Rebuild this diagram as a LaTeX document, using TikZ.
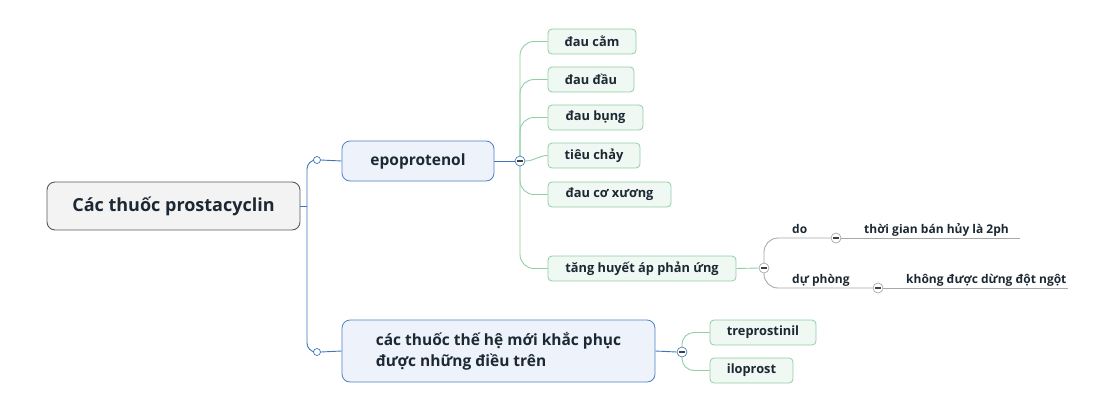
\documentclass[tikz,border=0pt]{standalone}
\usepackage{fontspec}
\setmainfont{Open Sans}
\usetikzlibrary{backgrounds}
\definecolor{txt}{HTML}{1C2833}
\definecolor{rootb}{HTML}{5A5A5A}
\definecolor{rootf}{HTML}{F3F3F3}
\definecolor{blueb}{HTML}{4D7FC4}
\definecolor{bluef}{HTML}{EEF3FB}
\definecolor{greenb}{HTML}{8FD0A4}
\definecolor{greenf}{HTML}{EFF8F2}
\definecolor{bline}{HTML}{3F74BB}
\definecolor{gline}{HTML}{8FCFA3}
\definecolor{grline}{HTML}{A8A8A8}
\begin{document}
\begin{tikzpicture}[x=1pt,y=-1pt,
  box/.style={draw, inner sep=0pt, text=txt},
  rootbox/.style={box, draw=rootb, fill=rootf, line width=0.9pt, rounded corners=8pt,
     minimum width=253pt, minimum height=48pt, font=\bfseries\fontsize{18}{21}\selectfont},
  lonebox/.style={box, draw=blueb, fill=bluef, line width=0.8pt, rounded corners=8pt,
     font=\bfseries\fontsize{15.5}{21}\selectfont},
  leafbox/.style={box, draw=greenb, fill=greenf, line width=0.8pt, rounded corners=4pt,
     minimum height=25pt, font=\bfseries\fontsize{12.8}{15}\selectfont},
  lbl/.style={inner sep=0pt, text=txt, font=\bfseries\fontsize{12}{15}\selectfont},
  tip/.style={circle, draw=#1, fill=white, line width=0.7pt, minimum size=10pt, inner sep=0pt,
     path picture={\draw[line width=1.1pt, draw=black!75]
       ([xshift=-2.6pt]path picture bounding box.center) -- ([xshift=2.6pt]path picture bounding box.center);}},
  knob/.style={circle, draw=bline, fill=white, line width=0.7pt, minimum size=7pt, inner sep=0pt},
  bl/.style={draw=bline, line width=0.9pt},
  gl/.style={draw=gline, line width=0.9pt},
  gy/.style={draw=grline, line width=0.9pt},
]
\useasboundingbox (0,0) rectangle (1102,413);

% root
\node[rootbox] (root) at (173.5,206) {Các thuốc prostacyclin};
\coordinate (j) at (307,206);
\node[knob] (k1) at (317,160) {};
\node[knob] (k2) at (317,352) {};

% level 1
\node[lonebox, minimum width=152pt, minimum height=40pt] (epo) at (418,161) {epoprotenol};
\node[lonebox, minimum width=313pt, minimum height=62pt, align=left] (new) at (498.5,351)
  {các thuốc thế hệ mới khắc phục\\được những điều trên};

% collapse tips
\node[tip=blueb] (c1) at (520,161) {};
\node[tip=blueb] (c2) at (682,352) {};
\node[tip=grline] (c3) at (764,268) {};
\node[tip=grline] (c4) at (836,238) {};
\node[tip=grline] (c5) at (878,288) {};

% leaves of epoprotenol
\node[leafbox, minimum width=88pt] (l1) at (592,41.5) {đau cằm};
\node[leafbox, minimum width=86pt] (l2) at (591,79.5) {đau đầu};
\node[leafbox, minimum width=95pt] (l3) at (595.5,117.5) {đau bụng};
\node[leafbox, minimum width=92pt] (l4) at (594,155.5) {tiêu chảy};
\node[leafbox, minimum width=123pt] (l5) at (609.5,194.5) {đau cơ xương};
\node[leafbox, minimum width=188pt] (l6) at (642,268.5) {tăng huyết áp phản ứng};

% leaves of new
\node[leafbox, minimum width=106pt] (t1) at (763,332.5) {treprostinil};
\node[leafbox, minimum width=83pt] (t2) at (751.5,370.5) {iloprost};

% labels on lines
\node[lbl, anchor=base west] (do) at (792,233) {do};
\node[lbl, anchor=base west] (dp) at (792,283) {dự phòng};
\node[lbl, anchor=base west] (d1) at (864,233) {thời gian bán hủy là 2ph};
\node[lbl, anchor=base west] (d2) at (906,283) {không được dừng đột ngột};
\coordinate (e1) at (1020,238);
\coordinate (e2) at (1068,288);

\begin{scope}[on background layer]
  \draw[bl] (root.east) -- (j);
  \draw[bl, rounded corners=9pt] (j) |- (k1.west);
  \draw[bl, rounded corners=9pt] (j) |- (k2.west);
  \draw[bl] (k1.east) -- (epo.west);
  \draw[bl] (k2.east) -- (new.west);
  \draw[bl] (epo.east) -- (c1.west);
  \draw[bl] (new.east) -- (c2.west);
  \foreach \n in {l1,l2,l3,l5,l6}
    \draw[gl, rounded corners=14pt] (c1.center) |- (\n.west);
  \draw[gl] (c1.east) to[out=0,in=180] (l4.west);
  \draw[gl, rounded corners=12pt] (c2.center) |- (t1.west);
  \draw[gl, rounded corners=12pt] (c2.center) |- (t2.west);
  \draw[gl] (l6.east) -- (c3.west);
  \draw[gy, rounded corners=14pt] (c3.center) |- (c4.west);
  \draw[gy, rounded corners=14pt] (c3.center) |- (c5.west);
  \draw[gy] (c4.east) -- (e1);
  \draw[gy] (c5.east) -- (e2);
\end{scope}
\end{tikzpicture}
\end{document}
